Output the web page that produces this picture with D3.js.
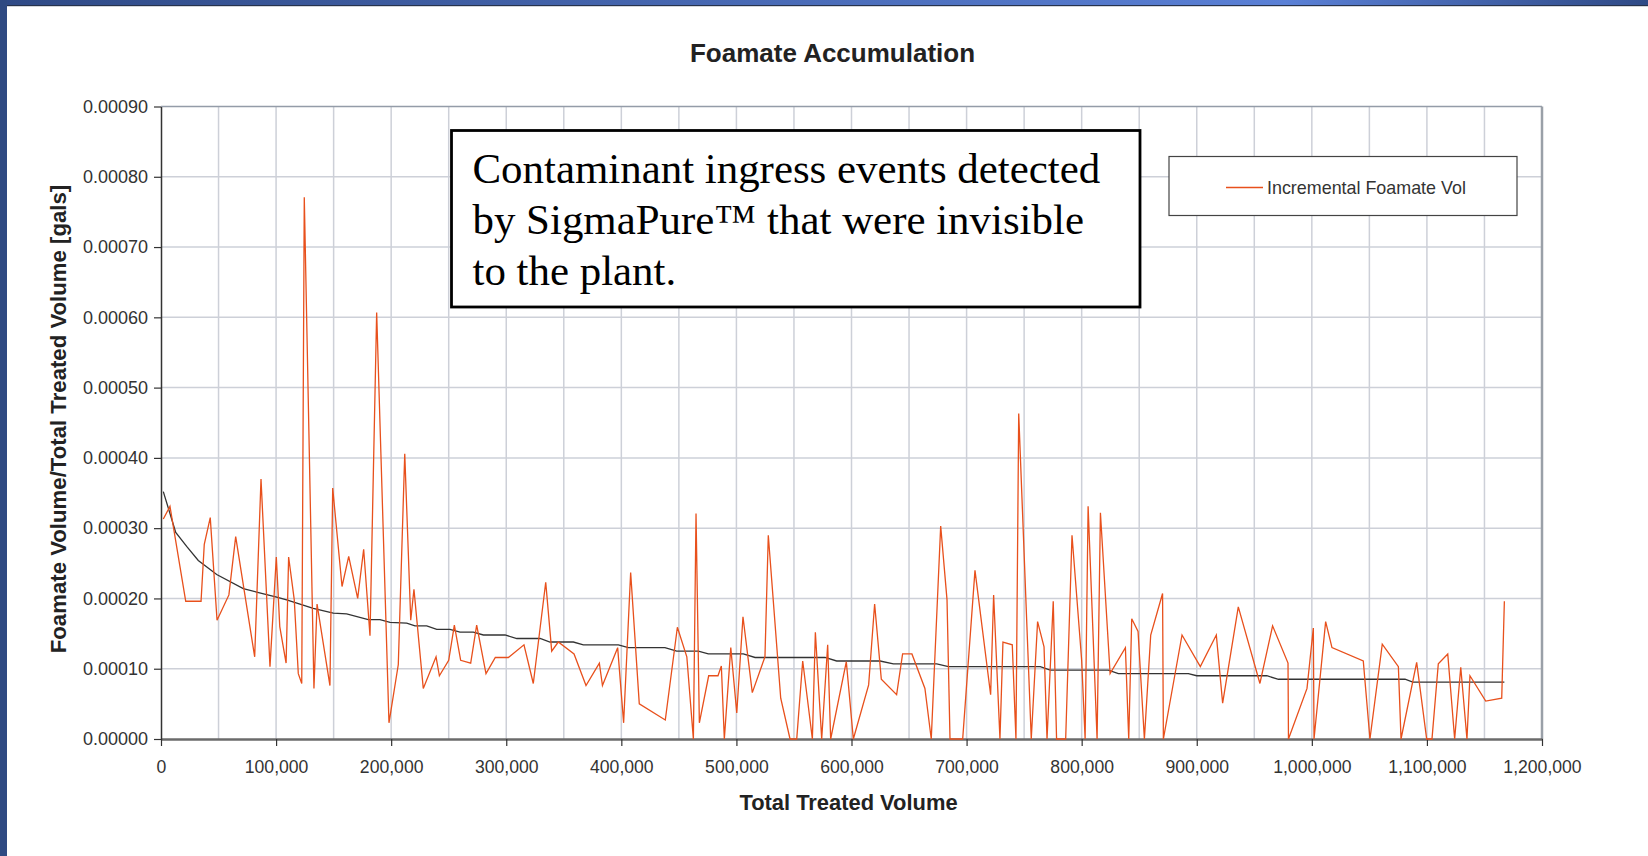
<!DOCTYPE html>
<html>
<head>
<meta charset="utf-8">
<title>Foamate Accumulation</title>
<script src="https://cdn.jsdelivr.net/npm/d3@7"></script>
<style>
  body { margin: 0; background: #fff; }
  svg { display: block; }
</style>
</head>
<body>
<div id="root"></div>
<script>
// incremental foamate ratio
const incVolume = [2000, 7800, 21500, 34800, 37600, 42800, 48700, 59000, 64900, 81400,
  86900, 94700, 100200, 103200, 108700, 110900, 115800, 119300, 122300, 124500,
  132900, 135600, 146800, 149200, 157300, 163100, 170900, 176100, 181600, 187400,
  198100, 206200, 211800, 217000, 219800, 227900, 239000, 241900, 250000, 254900,
  260400, 269100, 274300, 282400, 290500, 301800, 315400, 323500, 334300, 339500,
  345200, 358900, 369300, 380900, 383600, 396800, 402000, 408100, 415600, 438200,
  448700, 456900, 462600, 464900, 467800, 475900, 484000, 486900, 489500, 495100,
  500300, 505700, 513800, 524800, 527700, 538500, 546600, 552400, 557600, 566000,
  568600, 574100, 579300, 581900, 595500, 601600, 614900, 620100, 625900, 639200,
  644400, 652500, 663800, 669300, 677500, 683000, 685600, 696600, 707300, 720900,
  723500, 729000, 731600, 739700, 742900, 745300, 756200, 761700, 767300, 769900,
  775300, 778200, 786100, 791600, 800000, 803000, 805600, 813400, 816300, 824700,
  838000, 840900, 843500, 849000, 854500, 860000, 870300, 871000, 887200, 903100,
  917000, 922500, 936100, 954900, 965900, 979300, 979700, 995800, 1001300, 1001900,
  1012000, 1017500, 1044700, 1050500, 1061200, 1075200, 1077500, 1091100, 1099800, 1104400,
  1109900, 1118100, 1124100, 1129400, 1134800, 1137400, 1151100, 1165000, 1167300];

const incRatio = [3.13e-4, 3.31e-4, 1.96e-4, 1.96e-4, 2.77e-4, 3.15e-4, 1.69e-4, 2.05e-4, 2.88e-4, 1.17e-4,
  3.70e-4, 1.03e-4, 2.59e-4, 1.60e-4, 1.08e-4, 2.59e-4, 1.98e-4, 0.93e-4, 0.79e-4, 7.71e-4,
  0.72e-4, 1.92e-4, 0.76e-4, 3.57e-4, 2.17e-4, 2.60e-4, 2.00e-4, 2.70e-4, 1.47e-4, 6.07e-4,
  0.23e-4, 1.06e-4, 4.06e-4, 1.69e-4, 2.13e-4, 0.72e-4, 1.17e-4, 0.90e-4, 1.12e-4, 1.62e-4,
  1.12e-4, 1.08e-4, 1.62e-4, 0.93e-4, 1.16e-4, 1.16e-4, 1.34e-4, 0.79e-4, 2.23e-4, 1.25e-4,
  1.38e-4, 1.21e-4, 0.76e-4, 1.08e-4, 0.76e-4, 1.30e-4, 0.23e-4, 2.37e-4, 0.50e-4, 0.27e-4,
  1.59e-4, 1.17e-4, 0, 3.21e-4, 0.23e-4, 0.90e-4, 0.90e-4, 1.04e-4, 0, 1.30e-4,
  0.37e-4, 1.74e-4, 0.66e-4, 1.17e-4, 2.90e-4, 0.58e-4, 0, 0, 1.11e-4, 0,
  1.52e-4, 0, 1.34e-4, 0, 1.10e-4, 0, 0.77e-4, 1.92e-4, 0.85e-4, 0.63e-4,
  1.21e-4, 1.21e-4, 0.72e-4, 0, 3.03e-4, 1.98e-4, 0, 0, 2.40e-4, 0.63e-4,
  2.05e-4, 0, 1.38e-4, 1.34e-4, 0, 4.63e-4, 0, 1.67e-4, 1.31e-4, 0,
  1.96e-4, 0, 0, 2.90e-4, 1.12e-4, 0, 3.31e-4, 0, 3.22e-4, 0.93e-4,
  1.30e-4, 0, 1.71e-4, 1.53e-4, 0, 1.48e-4, 2.07e-4, 0, 1.48e-4, 1.03e-4,
  1.48e-4, 0.51e-4, 1.88e-4, 0.79e-4, 1.61e-4, 1.08e-4, 0, 0.72e-4, 1.58e-4, 0,
  1.67e-4, 1.30e-4, 1.11e-4, 0, 1.35e-4, 1.03e-4, 0, 1.09e-4, 0, 0,
  1.07e-4, 1.21e-4, 0, 1.02e-4, 0, 0.90e-4, 0.54e-4, 0.58e-4, 1.96e-4];

// running (cumulative) ratio, the dark line
const cumVolume = [2000, 12800, 22300, 32400, 48400, 71500, 83100, 100500, 109200, 132300,
  149700, 161300, 180100, 190300, 199000, 213500, 220700, 230900, 239600, 251100,
  259800, 271400, 280100, 299000, 309200, 329400, 338000, 358300, 367000, 397400,
  406100, 437900, 448100, 466900, 475600, 506000, 516200, 577000, 587100, 624800,
  636400, 674100, 684200, 764000, 772700, 823200, 831900, 892700, 900000, 960900,
  971000, 1081000, 1087700, 1167300];

const cumRatio = [3.52e-4, 2.94e-4, 2.74e-4, 2.54e-4, 2.34e-4, 2.14e-4, 2.09e-4, 2.02e-4, 1.98e-4, 1.86e-4,
  1.79e-4, 1.78e-4, 1.70e-4, 1.70e-4, 1.66e-4, 1.65e-4, 1.61e-4, 1.61e-4, 1.56e-4, 1.56e-4,
  1.52e-4, 1.52e-4, 1.48e-4, 1.48e-4, 1.43e-4, 1.43e-4, 1.38e-4, 1.38e-4, 1.34e-4, 1.34e-4,
  1.30e-4, 1.30e-4, 1.25e-4, 1.25e-4, 1.21e-4, 1.21e-4, 1.16e-4, 1.16e-4, 1.11e-4, 1.11e-4,
  1.07e-4, 1.07e-4, 1.03e-4, 1.03e-4, 0.98e-4, 0.98e-4, 0.93e-4, 0.93e-4, 0.90e-4, 0.90e-4,
  0.85e-4, 0.85e-4, 0.81e-4, 0.81e-4];

const xTicks = [0, 100000, 200000, 300000, 400000, 500000, 600000, 700000, 800000, 900000, 1000000, 1100000, 1200000];
const yTicks = [0, 0.0001, 0.0002, 0.0003, 0.0004, 0.0005, 0.0006, 0.0007, 0.0008, 0.0009];
const legendLabels = ["Incremental Foamate Vol"];
const noteLines = ["Contaminant ingress events detected", "by SigmaPure\u2122 that were invisible", "to the plant."];

const width = 1648;
const height = 856;
const margin = { top: 106.5, right: 106, bottom: 117, left: 161 };
const innerWidth = width - margin.left - margin.right;
const innerHeight = height - margin.top - margin.bottom;
const sans = "Arial, 'Liberation Sans', sans-serif";
const orange = "#e8501c";

const svg = d3.select("#root")
  .append("svg")
  .attr("width", width)
  .attr("height", height)
  .attr("viewBox", `0 0 ${width} ${height}`);

// slide frame: blue strip left, gradient bar on top
const grad = svg.append("defs").append("linearGradient").attr("id", "topbar");
grad.append("stop").attr("offset", "0%").attr("stop-color", "#2f4a86");
grad.append("stop").attr("offset", "78%").attr("stop-color", "#5a80d6");
grad.append("stop").attr("offset", "100%").attr("stop-color", "#2f4a86");
svg.append("rect").attr("x", 0).attr("y", 0).attr("width", width).attr("height", 5).attr("fill", "url(#topbar)");
svg.append("rect").attr("x", 0).attr("y", 5).attr("width", width).attr("height", 1.2).attr("fill", "#26324c");
svg.append("rect").attr("x", 0).attr("y", 0).attr("width", 7).attr("height", height).attr("fill", "#2f4a82");

const innerChart = svg.append("g")
  .attr("transform", `translate(${margin.left}, ${margin.top})`);

const xScale = d3.scaleLinear().domain([0, 1200000]).range([0, innerWidth]);
const yScale = d3.scaleLinear().domain([0, 0.0009]).range([innerHeight, 0]);

// grid
innerChart.append("g")
  .selectAll("line")
  .data(d3.range(50000, 1200000, 50000))
  .join("line")
  .attr("x1", (d) => xScale(d))
  .attr("x2", (d) => xScale(d))
  .attr("y1", 0)
  .attr("y2", innerHeight)
  .attr("stroke", "#cdd0d8")
  .attr("stroke-width", 1.5);

innerChart.append("g")
  .selectAll("line")
  .data(yTicks.slice(1, -1))
  .join("line")
  .attr("x1", 0)
  .attr("x2", innerWidth)
  .attr("y1", (d) => yScale(d))
  .attr("y2", (d) => yScale(d))
  .attr("stroke", "#cdd0d8")
  .attr("stroke-width", 1.5);

// plot frame top / right
innerChart.append("line")
  .attr("x1", 0).attr("x2", innerWidth).attr("y1", 0).attr("y2", 0)
  .attr("stroke", "#949ca8").attr("stroke-width", 1.5);
innerChart.append("line")
  .attr("x1", innerWidth).attr("x2", innerWidth).attr("y1", 0).attr("y2", innerHeight)
  .attr("stroke", "#9aa0a8").attr("stroke-width", 2.5);

// axes
const xAxis = innerChart.append("g")
  .attr("transform", `translate(0, ${innerHeight})`)
  .call(d3.axisBottom(xScale).tickValues(xTicks).tickFormat(d3.format(",")).tickSize(7).tickPadding(15).tickSizeOuter(0));
xAxis.select(".domain").attr("stroke", "#6b6b6b").attr("stroke-width", 2.5);
xAxis.selectAll(".tick line").attr("stroke", "#333").attr("stroke-width", 1.2);
xAxis.selectAll(".tick text")
  .attr("fill", "#333")
  .attr("font-family", sans)
  .attr("font-size", 17.6);

const yAxis = innerChart.append("g")
  .call(d3.axisLeft(yScale).tickValues(yTicks).tickFormat(d3.format(".5f")).tickSize(7).tickPadding(6).tickSizeOuter(0));
yAxis.select(".domain").attr("stroke", "#333").attr("stroke-width", 1.5);
yAxis.selectAll(".tick line").attr("stroke", "#333").attr("stroke-width", 1.2);
yAxis.selectAll(".tick text")
  .attr("fill", "#333")
  .attr("font-family", sans)
  .attr("font-size", 18);

// series
const incData = incVolume.map((v, i) => ({ x: v, y: incRatio[i] }));
const cumData = cumVolume.map((v, i) => ({ x: v, y: cumRatio[i] }));

const line = d3.line()
  .x((d) => xScale(d.x))
  .y((d) => yScale(d.y));

innerChart.append("path")
  .datum(cumData)
  .attr("d", line)
  .attr("fill", "none")
  .attr("stroke", "#333")
  .attr("stroke-width", 1.3);

innerChart.append("path")
  .datum(incData)
  .attr("d", line)
  .attr("fill", "none")
  .attr("stroke", orange)
  .attr("stroke-width", 1.3)
  .attr("stroke-linejoin", "miter");

// title and axis labels
svg.append("text")
  .text("Foamate Accumulation")
  .attr("x", 832.5)
  .attr("y", 61.5)
  .attr("text-anchor", "middle")
  .attr("font-family", sans)
  .attr("font-weight", "bold")
  .attr("font-size", 26)
  .attr("fill", "#222");

svg.append("text")
  .text("Total Treated Volume")
  .attr("x", 848.5)
  .attr("y", 809.5)
  .attr("text-anchor", "middle")
  .attr("font-family", sans)
  .attr("font-weight", "bold")
  .attr("font-size", 21.9)
  .attr("fill", "#222");

svg.append("text")
  .text("Foamate Volume/Total Treated Volume [gals]")
  .attr("transform", "translate(58.5, 419) rotate(-90)")
  .attr("text-anchor", "middle")
  .attr("dominant-baseline", "central")
  .attr("font-family", sans)
  .attr("font-weight", "bold")
  .attr("font-size", 22.2)
  .attr("fill", "#222");

// legend
const legend = svg.append("g").attr("transform", "translate(1169, 156.5)");
legend.append("rect")
  .attr("width", 348)
  .attr("height", 59)
  .attr("fill", "#fff")
  .attr("stroke", "#444")
  .attr("stroke-width", 1.2);
legend.selectAll("line")
  .data(legendLabels)
  .join("line")
  .attr("x1", 57).attr("x2", 94)
  .attr("y1", 31).attr("y2", 31)
  .attr("stroke", orange)
  .attr("stroke-width", 1.5);
legend.selectAll("text")
  .data(legendLabels)
  .join("text")
  .text((d) => d)
  .attr("x", 98)
  .attr("y", 31)
  .attr("dominant-baseline", "central")
  .attr("font-family", sans)
  .attr("font-size", 17.9)
  .attr("fill", "#333");

// annotation box
const note = svg.append("g").attr("transform", "translate(451.5, 130.5)");
note.append("rect")
  .attr("width", 688.5)
  .attr("height", 176.5)
  .attr("fill", "#fff")
  .attr("stroke", "#000")
  .attr("stroke-width", 2.8);
note.selectAll("text")
  .data(noteLines)
  .join("text")
  .text((d) => d)
  .attr("x", 21)
  .attr("y", (d, i) => 52 + i * 51)
  .attr("font-family", "'Liberation Serif', 'Times New Roman', serif")
  .attr("font-size", 42.9)
  .attr("fill", "#000");
</script>
</body>
</html>
